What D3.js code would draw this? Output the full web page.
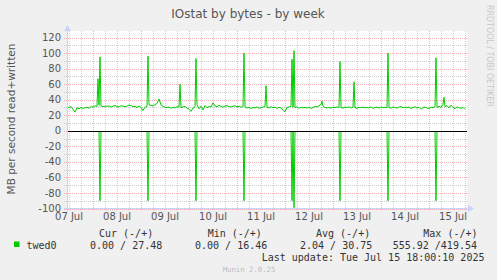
<!DOCTYPE html>
<html><head><meta charset="utf-8">
<script src="https://cdn.jsdelivr.net/npm/d3@7"></script>
<style>html,body{margin:0;padding:0;background:#f0f0f0;overflow:hidden}svg{display:block}</style>
</head><body><svg id="c" width="497" height="280"></svg>
<script>
// ---------- data ----------
const title = "IOstat by bytes - by week";
const yAxisLabel = "MB per second read+written";
const watermark = "RRDTOOL / TOBI OETIKER";
const startTime = Date.UTC(2025, 6, 7, 11, 0);
const endTime = Date.UTC(2025, 6, 15, 19, 0);
const yMajorTicks = [-100, -80, -60, -40, -20, 0, 20, 40, 60, 80, 100, 120];
const yMinorTicks = [-90, -70, -50, -30, -10, 10, 30, 50, 70, 90, 110];
const dayLabels = ["07 Jul", "08 Jul", "09 Jul", "10 Jul", "11 Jul", "12 Jul", "13 Jul", "14 Jul", "15 Jul"];
const dayLabelNoons = ["2025-07-07", "2025-07-08", "2025-07-09", "2025-07-10", "2025-07-11", "2025-07-12", "2025-07-13", "2025-07-14", "2025-07-15"];
// written MB/s, hourly from startTime
const writtenHourly = [
  30.5, 29.8, 31.2, 27.4, 24.0, 29.6, 28.3, 30.1, 28.8, 29.5,
  30.2, 28.9, 31.0, 30.4, 32.1, 31.5, 33.0, 32.2, 30.8, 31.9,
  31.4, 32.0, 30.6, 31.8, 32.5, 31.1, 30.7, 32.3, 31.6, 30.9,
  31.7, 33.1, 32.4, 30.8, 31.3, 29.9, 31.8, 30.2, 26.0, 30.5,
  31.2, 33.4, 32.6, 31.9, 33.8, 35.0, 41.0, 33.2, 31.4, 30.2,
  29.8, 30.6, 28.9, 30.3, 29.4, 31.0, 30.2, 29.7, 30.8, 31.4,
  29.1, 27.8, 25.0, 29.3, 30.9, 33.5, 28.2, 31.6, 26.8, 32.4,
  29.6, 31.2, 30.5, 36.0, 31.8, 30.9, 32.7, 31.3, 30.4, 31.9,
  32.4, 31.0, 30.6, 31.7, 32.2, 30.8, 31.5, 30.3, 31.1, 30.6,
  29.4, 30.2, 28.7, 30.0, 29.3, 30.8, 28.9, 29.6, 30.5, 31.2,
  30.1, 29.3, 30.8, 29.7, 30.4, 28.8, 30.2, 29.5, 26.4, 24.8,
  29.9, 30.6, 31.4, 30.2, 29.8, 30.7, 28.9, 30.3, 29.6, 30.1,
  29.2, 30.5, 28.7, 29.9, 31.3, 30.6, 32.2, 34.0, 31.5, 30.1,
  29.4, 30.0, 29.1, 30.3, 29.7, 30.8, 29.5, 30.2, 29.0, 30.6,
  29.8, 30.9, 29.3, 30.4, 29.6, 28.9, 30.2, 29.7, 30.5, 29.4,
  30.1, 29.5, 30.8, 28.8, 29.9, 30.4, 29.2, 30.6, 29.7, 30.3,
  29.5, 30.1, 29.0, 30.7, 29.8, 29.3, 30.4, 31.2, 29.6, 30.3,
  29.7, 30.5, 28.6, 29.8, 30.9, 29.4, 30.2, 27.5, 29.9, 30.6,
  29.1, 28.7, 30.3, 29.5, 30.8, 29.9, 31.6, 30.2, 34.0, 31.0,
  32.5, 29.4, 33.0, 30.1, 28.5, 30.7, 29.6, 28.8, 30.2, 27.5
];
const writtenSpikeHours  = [15.5, 16.5, 40.5, 56.5, 64.5, 88.5, 99.5, 112.5, 113.5, 127.5, 136.5, 143.5, 160.5, 184.5, 188.5];
const writtenSpikeValues = [67, 95, 96, 60, 93, 100, 58, 92, 103, 38, 89, 63, 100, 94, 43];
const readSpikeHours  = [16.5, 40.5, 64.5, 88.5, 112.5, 113.5, 136.5, 160.5, 184.5];
const readSpikeValues = [90, 90, 90, 90, 90, 99, 90, 90, 90];
const legendName = "twed0";
const legendHeaders = ["Cur (-/+)", "Min (-/+)", "Avg (-/+)", "Max (-/+)"];
const legendValues = ["0.00 / 27.48", "0.00 / 16.46", "2.04 / 30.75", "555.92 /419.54"];
const lastUpdate = "Last update: Tue Jul 15 18:00:10 2025";
const footer = "Munin 2.0.25";

// ---------- layout ----------
const HOUR = 3600e3;
const svg = d3.select("#c");
const X0 = 67, X1 = 467;
const x = d3.scaleUtc().domain([startTime, endTime]).range([X0, X1]);
const y = d3.scaleLinear().domain([-100, 120]).range([208.5, 37.5]);
const px = v => Math.round(v) + 0.5;
const Y0 = px(y(0));

svg.append("rect").attr("width", 497).attr("height", 280).attr("fill", "#f0f0f0");
svg.append("rect").attr("x", X0).attr("y", 31).attr("width", X1 - X0).attr("height", 208 - 31).attr("fill", "#ffffff");

const minorCol = "#cfcfcf", majorCol = "#f4b0b0";
const g = svg.append("g");
yMinorTicks.forEach(v => {
  g.append("line").attr("x1", X0 - 3).attr("x2", X1).attr("y1", px(y(v))).attr("y2", px(y(v)))
    .attr("stroke", minorCol).attr("stroke-dasharray", "1,1");
});
const days = d3.utcDay.range(startTime, endTime).filter(d => +d > startTime);
const sixH = d3.utcHour.every(6).range(new Date(startTime), new Date(endTime)).filter(d => d.getUTCHours() !== 0);
sixH.forEach(d => {
  g.append("line").attr("x1", px(x(d))).attr("x2", px(x(d))).attr("y1", 31).attr("y2", 211)
    .attr("stroke", minorCol).attr("stroke-dasharray", "1,1");
});
yMajorTicks.forEach(v => {
  g.append("line").attr("x1", X0 - 3).attr("x2", X1).attr("y1", px(y(v))).attr("y2", px(y(v)))
    .attr("stroke", majorCol).attr("stroke-dasharray", "1,1");
});
days.forEach(d => {
  g.append("line").attr("x1", px(x(d))).attr("x2", px(x(d))).attr("y1", 31).attr("y2", 211)
    .attr("stroke", majorCol).attr("stroke-dasharray", "1,1");
});

// ---------- series ----------
const written = writtenHourly.map((v, i) => ({ t: startTime + i * HOUR, v }))
  .concat(writtenSpikeHours.map((h, i) => ({ t: startTime + h * HOUR, v: writtenSpikeValues[i] })))
  .sort((a, b) => a.t - b.t);
let readPts = [{ t: startTime, v: 0 }];
readSpikeHours.forEach((h, i) => {
  readPts.push({ t: startTime + (h - 0.5) * HOUR, v: 0 });
  readPts.push({ t: startTime + h * HOUR, v: -readSpikeValues[i] });
  readPts.push({ t: startTime + (h + 0.5) * HOUR, v: 0 });
});
readPts.push({ t: endTime, v: 0 });

svg.append("clipPath").attr("id", "clip").append("rect").attr("x", X0).attr("y", 31).attr("width", X1 - X0).attr("height", 208 - 31 + 1);
const line = d3.line().x(d => x(d.t)).y(d => d.v === 0 ? Y0 : y(Math.max(-100, d.v)));
const series = svg.append("g").attr("clip-path", "url(#clip)");
series.append("path").attr("d", line(readPts)).attr("fill", "none").attr("stroke", "#00cc00").attr("stroke-width", 1);
series.append("path").attr("d", line(written)).attr("fill", "none").attr("stroke", "#00cc00").attr("stroke-width", 1);
svg.append("line").attr("x1", X0).attr("x2", X1).attr("y1", Y0).attr("y2", Y0).attr("stroke", "#000").attr("stroke-width", 1);

// ---------- axes ----------
const axisCol = "#c9d2fa";
svg.append("line").attr("x1", X0 + 0.5).attr("x2", X0 + 0.5).attr("y1", 29).attr("y2", 211).attr("stroke", axisCol);
svg.append("line").attr("x1", X0 - 3).attr("x2", X1 + 4).attr("y1", 208.5).attr("y2", 208.5).attr("stroke", axisCol);
svg.append("path").attr("d", `M${X0 - 3},${31} L${X0 + 0.5},${25} L${X0 + 4},${31} Z`).attr("fill", axisCol);
svg.append("path").attr("d", `M${X1 + 1},${205} L${X1 + 7},${208.5} L${X1 + 1},${212} Z`).attr("fill", axisCol);

const labelCol = "#555";
svg.append("g").selectAll("text").data(yMajorTicks).join("text")
  .attr("x", 61).attr("y", d => y(d) + 3.6).attr("text-anchor", "end")
  .attr("font-family", "DejaVu Sans").attr("font-size", 10).attr("fill", labelCol)
  .text(d => d);
svg.append("g").selectAll("text").data(dayLabels).join("text")
  .attr("x", (d, i) => x(Date.parse(dayLabelNoons[i] + "T12:00:00Z"))).attr("y", 220)
  .attr("text-anchor", "middle").attr("font-family", "DejaVu Sans").attr("font-size", 10).attr("fill", labelCol)
  .text(d => d);

svg.append("text").attr("x", 248).attr("y", 17.5).attr("text-anchor", "middle")
  .attr("font-family", "DejaVu Sans").attr("font-size", 12).attr("fill", "#555").text(title);
svg.append("text").attr("transform", "translate(14.5,119) rotate(-90)").attr("text-anchor", "middle")
  .attr("font-family", "DejaVu Sans").attr("font-size", 10.5).attr("fill", "#555").text(yAxisLabel);
svg.append("text").attr("transform", "translate(487,5) rotate(90)").attr("text-anchor", "start")
  .attr("font-family", "DejaVu Sans").attr("font-size", 8).attr("fill", "#c8c8c8")
  .attr("textLength", 102).attr("lengthAdjust", "spacingAndGlyphs").text(watermark);

// ---------- legend ----------
const mono = "DejaVu Sans Mono", legCol = "#333";
const headX = [99, 207.7, 316, 423.3];
const valX = [90, 195, 300, 392.7];
legendHeaders.forEach((h, i) => svg.append("text").attr("x", headX[i]).attr("y", 237)
  .attr("font-family", mono).attr("font-size", 10).attr("fill", legCol).attr("xml:space", "preserve").text(h));
legendValues.forEach((h, i) => svg.append("text").attr("x", valX[i]).attr("y", 249)
  .attr("font-family", mono).attr("font-size", 10).attr("fill", legCol).attr("xml:space", "preserve").text(h));
svg.append("rect").attr("x", 14).attr("y", 241.5).attr("width", 5.5).attr("height", 5.5).attr("fill", "#00cc00");
svg.append("text").attr("x", 26.5).attr("y", 249).attr("font-family", mono).attr("font-size", 10).attr("fill", legCol).text(legendName);
svg.append("text").attr("x", 261.7).attr("y", 261).attr("font-family", mono).attr("font-size", 10).attr("fill", legCol)
  .attr("xml:space", "preserve").text(lastUpdate);
svg.append("text").attr("x", 249).attr("y", 272).attr("text-anchor", "middle").attr("font-family", mono)
  .attr("font-size", 7.3).attr("fill", "#bdbdbd").text(footer);
</script></body></html>
